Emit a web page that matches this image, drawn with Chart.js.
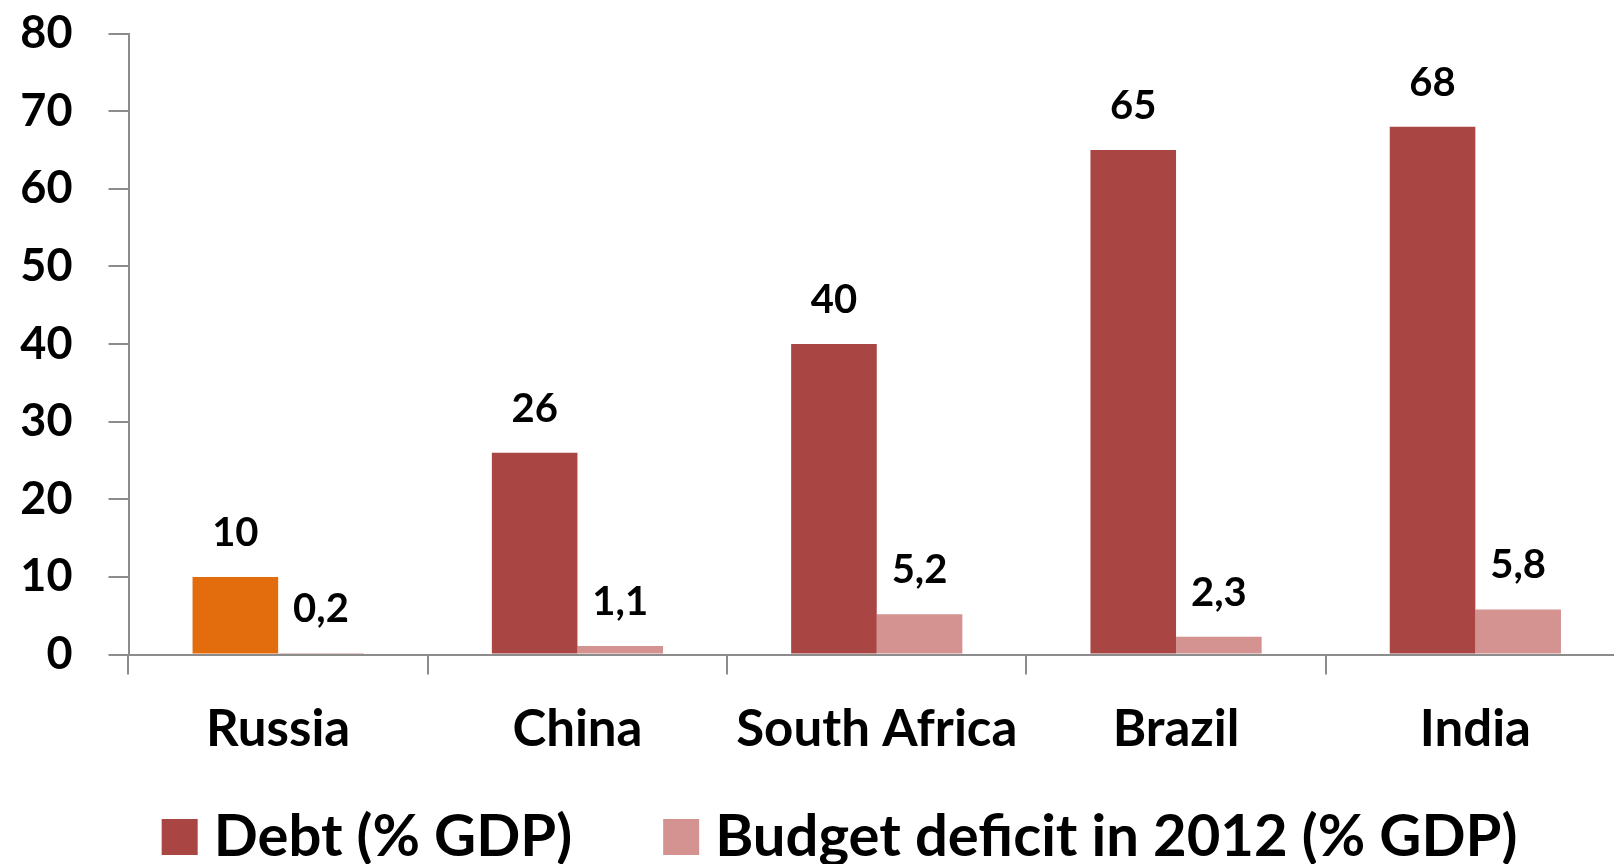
<!DOCTYPE html>
<html lang="en">

<head>
    <meta charset="UTF-8">
    <meta name="viewport" content="width=device-width, initial-scale=1.0">
    <script src="https://cdn.jsdelivr.net/npm/chart.js@4"></script>
    <title>BRICS debt and deficit</title>
    <style>
        html,
        body {
            margin: 0;
            padding: 0;
            background: #fff;
            overflow: hidden;
        }

        .wrap {
            position: relative;
            width: 1640px;
            height: 864px;
        }
    </style>
</head>

<body>
    <div class="wrap">
        <canvas id="myChart"></canvas>
    </div>

    <script>
        const countries = ["Russia", "China", "South Africa", "Brazil", "India"];
        const debt = [10, 26, 40, 65, 68];
        const deficit = [0.2, 1.1, 5.2, 2.3, 5.8];
        const seriesNames = ["Debt (% GDP)", "Budget deficit in 2012 (% GDP)"];

        const FONT = "Lato";
        const axisGrey = "#8c8c8c";
        const debtColor = "#a94643";
        const deficitColor = "#d49391";
        const russiaColor = "#e36c0c";

        // numbers above each bar, decimal comma
        const valueLabels = {
            id: "valueLabels",
            afterDatasetsDraw(chart) {
                const ctx = chart.ctx;
                ctx.save();
                ctx.font = "bold 40px " + FONT;
                ctx.fillStyle = "#000";
                ctx.textAlign = "center";
                ctx.textBaseline = "alphabetic";
                chart.data.datasets.forEach((ds, i) => {
                    chart.getDatasetMeta(i).data.forEach((bar, j) => {
                        const txt = String(ds.data[j]).replace(".", ",");
                        ctx.fillText(txt, bar.x, bar.y - 31);
                    });
                });
                ctx.restore();
            }
        };

        // legend row under the axis, centred a bit right of the canvas middle
        const bottomLegend = {
            id: "bottomLegend",
            afterDraw(chart) {
                const ctx = chart.ctx;
                const box = 36, gap = 16, itemGap = 91;
                const centre = 839.5, boxTop = 819, baseline = 856;
                ctx.save();
                ctx.font = "bold 58px " + FONT;
                const items = chart.data.datasets.map(ds => ({
                    text: ds.label,
                    color: ds.legendColor,
                    w: ctx.measureText(ds.label).width
                }));
                let total = items.reduce((s, it) => s + box + gap + it.w, 0) + itemGap * (items.length - 1);
                let x = centre - total / 2;
                ctx.textBaseline = "alphabetic";
                ctx.textAlign = "left";
                items.forEach(it => {
                    ctx.fillStyle = it.color;
                    ctx.fillRect(x, boxTop, box, box);
                    ctx.fillStyle = "#000";
                    ctx.fillText(it.text, x + box + gap, baseline);
                    x += box + gap + it.w + itemGap;
                });
                ctx.restore();
            }
        };

        new Chart("myChart", {
            type: "bar",
            data: {
                labels: countries,
                datasets: [{
                    label: seriesNames[0],
                    data: debt,
                    legendColor: debtColor,
                    backgroundColor: c => (c.type === "data" && countries[c.dataIndex] === "Russia") ? russiaColor : debtColor,
                    categoryPercentage: 0.572,
                    barPercentage: 1.0
                }, {
                    label: seriesNames[1],
                    data: deficit,
                    legendColor: deficitColor,
                    backgroundColor: deficitColor,
                    categoryPercentage: 0.572,
                    barPercentage: 1.0
                }]
            },
            options: {
                responsive: true,
                maintainAspectRatio: false,
                animation: false,
                layout: {
                    padding: { top: 33.5, left: 0, right: 15, bottom: 0 }
                },
                plugins: {
                    tooltip: { enabled: false },
                    legend: { display: false }
                },
                scales: {
                    x: {
                        afterFit: s => { s.height = 209.5; },
                        border: { display: true, color: axisGrey, width: 2 },
                        grid: { drawOnChartArea: false, drawTicks: true, tickLength: 20, color: axisGrey, lineWidth: 2 },
                        ticks: {
                            font: { family: FONT, size: 51, weight: "bold" },
                            color: "#000",
                            padding: 24,
                            maxRotation: 0
                        }
                    },
                    y: {
                        min: 0,
                        max: 80,
                        afterFit: s => {
                            s.width = 128.5;
                            s.paddingTop = 0;
                            s.paddingBottom = 0;
                        },
                        border: { display: true, color: axisGrey, width: 2 },
                        grid: { drawOnChartArea: false, drawTicks: true, tickLength: 20, color: axisGrey, lineWidth: 2 },
                        ticks: {
                            stepSize: 10,
                            font: { family: FONT, size: 45, weight: "bold" },
                            color: "#000",
                            padding: 36
                        }
                    }
                }
            },
            plugins: [valueLabels, bottomLegend]
        });
    </script>
</body>

</html>
